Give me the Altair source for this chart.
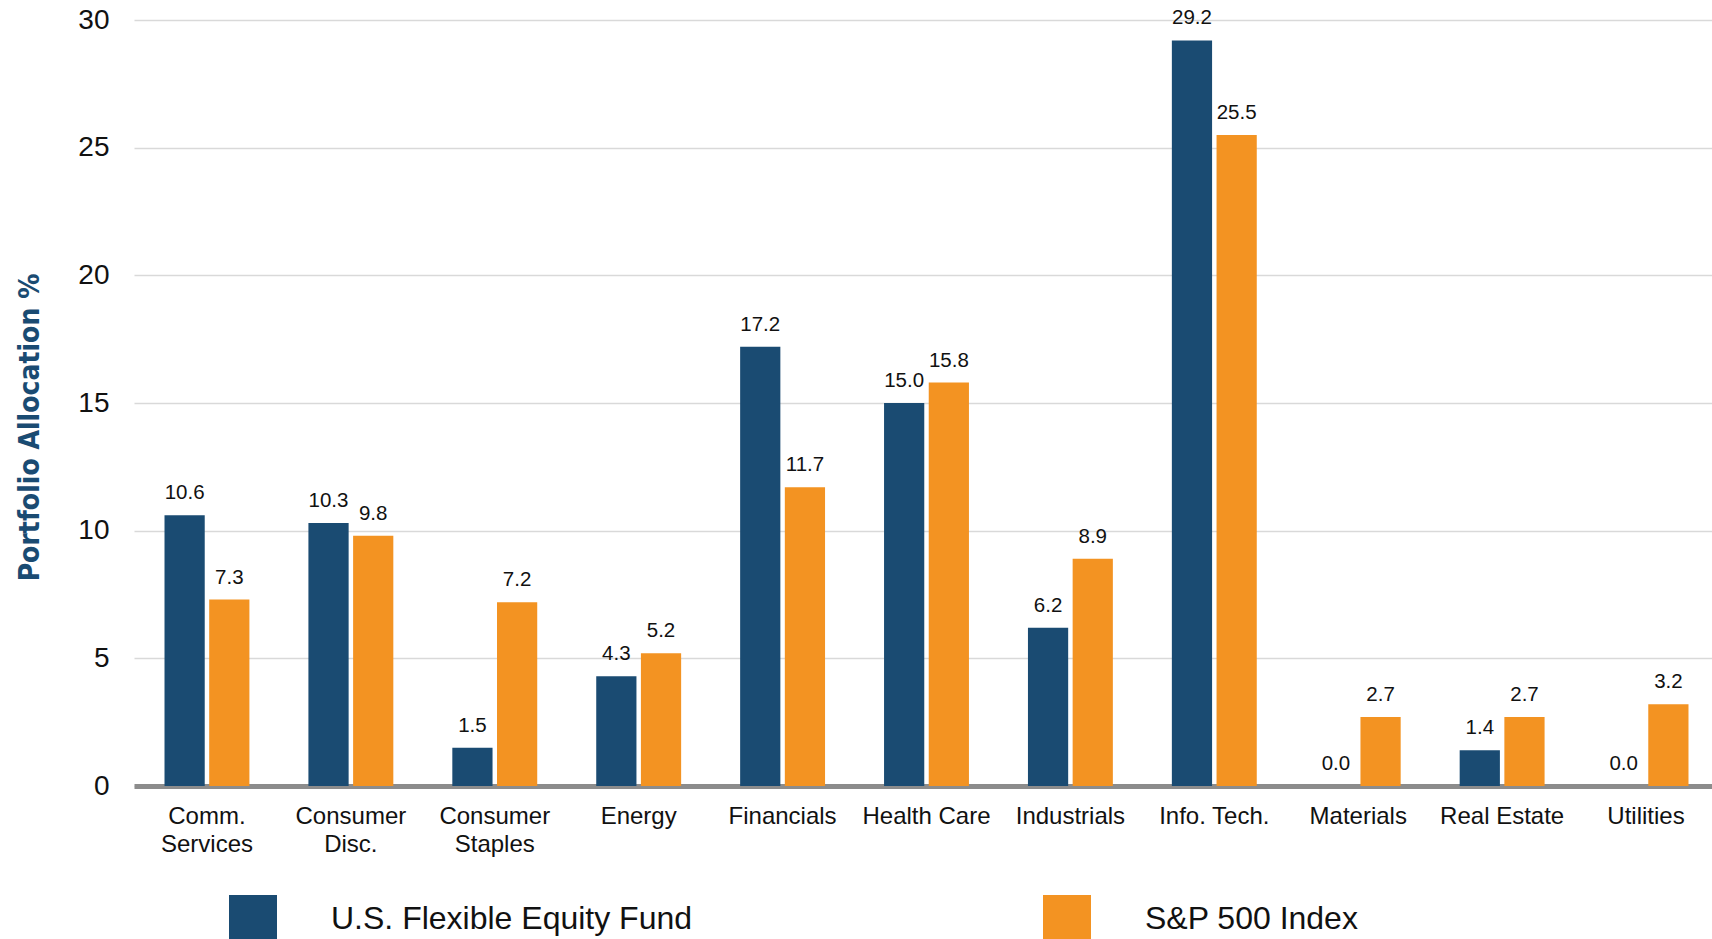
import altair as alt
import pandas as pd

categories = ["Comm.\nServices", "Consumer\nDisc.", "Consumer\nStaples", "Energy", "Financials",
              "Health Care", "Industrials", "Info. Tech.", "Materials", "Real Estate", "Utilities"]
fund_values = [10.6, 10.3, 1.5, 4.3, 17.2, 15.0, 6.2, 29.2, 0.0, 1.4, 0.0]
index_values = [7.3, 9.8, 7.2, 5.2, 11.7, 15.8, 8.9, 25.5, 2.7, 2.7, 3.2]
series_names = ["U.S. Flexible Equity Fund", "S&P 500 Index"]
series_colors = ["#1a4b72", "#f39322"]
y_ticks = [0, 5, 10, 15, 20, 25, 30]

rows = []
for c, f, i in zip(categories, fund_values, index_values):
    rows.append({"category": c, "series": series_names[0], "value": f})
    rows.append({"category": c, "series": series_names[1], "value": i})
df = pd.DataFrame(rows)

FONT = "Liberation Sans, Arial, sans-serif"
NARROW = "Liberation Sans Narrow, Arial Narrow, DejaVu Sans Condensed, sans-serif"

x_enc = alt.X("category:N", sort=categories,
              scale=alt.Scale(range=[0, 1585], paddingInner=0.41, paddingOuter=0.212),
              axis=alt.Axis(title=None, labelAngle=0, labelExpr="split(datum.label, '\\n')",
                            labelFont=FONT, labelFontSize=24, labelColor="#111",
                            labelLineHeight=28, labelPadding=18, ticks=False,
                            domainColor="#8c8c8c", domainWidth=5, grid=False))
xoff = alt.XOffset("series:N", sort=series_names, scale=alt.Scale(paddingInner=0.1))
y_enc = alt.Y("value:Q", scale=alt.Scale(domain=[0, 30], nice=False),
              axis=alt.Axis(values=y_ticks, title="Portfolio Allocation %",
                            titleFont=NARROW, titleFontSize=28, titleFontWeight="bold",
                            titleColor="#1a4b72", titleAngle=-90, titleX=-104, titleY=407,
                            titleAlign="center", titleBaseline="middle",
                            labelFont=FONT, labelFontSize=28, labelColor="#111",
                            labelPadding=25, ticks=False, domain=False,
                            gridColor="#d9d9d9", gridWidth=1.5))

color_enc = alt.Color("series:N", sort=series_names,
                      scale=alt.Scale(domain=series_names, range=series_colors),
                      legend=alt.Legend(title=None, orient="none", legendX=95, legendY=875,
                                        direction="horizontal", symbolType="square",
                                        symbolSize=2304, symbolStrokeWidth=0, symbolOpacity=1,
                                        labelFont=FONT, labelFontSize=32, labelColor="#111",
                                        labelOffset=54, labelLimit=600, columnPadding=350,
                                        padding=0))

bars = alt.Chart(df).mark_bar().encode(x=x_enc, xOffset=xoff, y=y_enc, color=color_enc)
labels = alt.Chart(df).mark_text(dy=-16, baseline="alphabetic", font=FONT, fontSize=20.5,
                                 color="#111").encode(
    x=x_enc, xOffset=xoff, y=y_enc, text=alt.Text("value:Q", format=".1f"))

chart = alt.layer(bars, labels).properties(
    width=1578, height=766,
    background="white",
    autosize=alt.AutoSizeParams(type="none"),
    padding={"left": 134, "top": 20, "right": 0, "bottom": 153},
).configure_view(strokeWidth=0, stroke="transparent")

chart.save("out.html", embed_options={"renderer": "svg", "actions": False})
